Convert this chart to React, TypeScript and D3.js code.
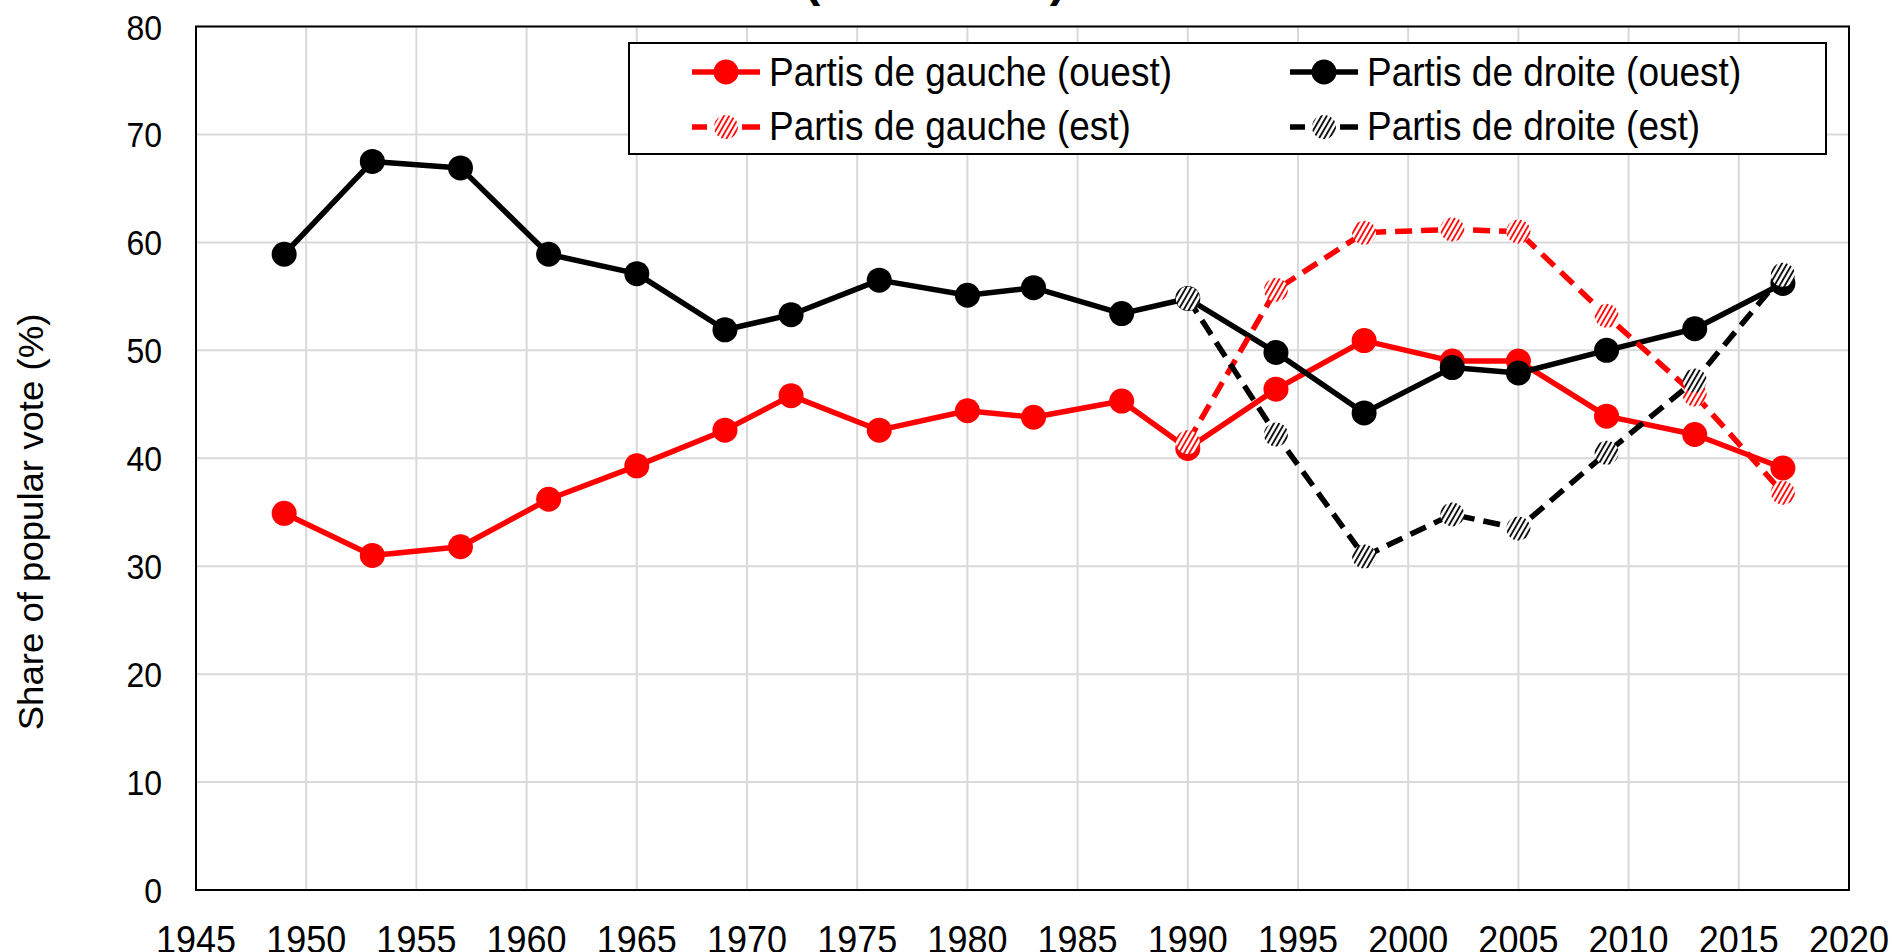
import React, { useEffect } from 'react';
import * as d3 from 'd3';

// election years
const yearsWest = [1949, 1953, 1957, 1961, 1965, 1969, 1972, 1976, 1980, 1983, 1987, 1990, 1994, 1998, 2002, 2005, 2009, 2013, 2017];
const yearsEast = [1990, 1994, 1998, 2002, 2005, 2009, 2013, 2017];

// vote shares (%)
const leftWest = [34.9, 31.0, 31.8, 36.2, 39.3, 42.6, 45.8, 42.6, 44.4, 43.8, 45.3, 40.9, 46.4, 50.9, 49.0, 49.0, 43.9, 42.2, 39.1];
const rightWest = [58.9, 67.5, 66.9, 58.9, 57.1, 51.9, 53.3, 56.5, 55.1, 55.8, 53.4, 54.8, 49.8, 44.2, 48.4, 47.9, 50.0, 52.0, 56.2];
const leftEast = [41.5, 55.6, 60.9, 61.2, 61.0, 53.2, 45.9, 36.8];
const rightEast = [54.8, 42.2, 30.9, 34.8, 33.5, 40.5, 47.2, 57.0];

const xTicks = [1945, 1950, 1955, 1960, 1965, 1970, 1975, 1980, 1985, 1990, 1995, 2000, 2005, 2010, 2015, 2020];
const yTicks = [0, 10, 20, 30, 40, 50, 60, 70, 80];

const titleText = '(1949-2017)';
const yLabel = 'Share of popular vote (%)';

const series = [
  { name: 'Partis de gauche (ouest)', years: yearsWest, values: leftWest, color: '#ff0000', dashed: false },
  { name: 'Partis de droite (ouest)', years: yearsWest, values: rightWest, color: '#000000', dashed: false },
  { name: 'Partis de gauche (est)', years: yearsEast, values: leftEast, color: '#ff0000', dashed: true },
  { name: 'Partis de droite (est)', years: yearsEast, values: rightEast, color: '#000000', dashed: true },
];

const W = 1896;
const H = 952;
const font = '"Liberation Sans", Arial, sans-serif';

// text is a bit taller than wide in the original picture
const Txt = ({ x, y, size, sy = 1.1, anchor = 'start', children }: any) => (
  <text transform={`translate(${x},${y}) scale(1,${sy})`} textAnchor={anchor} fontSize={size}>{children}</text>
);

export default function App() {
  useEffect(() => {
    document.body.style.margin = '0';
    document.body.style.overflow = 'hidden';
  }, []);

  const x = d3.scaleLinear().domain([1945, 2020]).range([196, 1849]);
  const y = d3.scaleLinear().domain([0, 80]).range([890, 26.5]);
  const line = d3.line<[number, number]>().x(d => x(d[0])).y(d => y(d[1]));

  const hatchId = (c: string) => (c === '#ff0000' ? 'hatch-red' : 'hatch-black');
  const marker = (s: typeof series[number], cx: number, cy: number, key: any) =>
    s.dashed ? (
      <circle key={key} cx={cx} cy={cy} r={12} fill={`url(#${hatchId(s.color)})`} />
    ) : (
      <circle key={key} cx={cx} cy={cy} r={12.5} fill={s.color} />
    );

  // legend layout
  const legend = { x: 629, y: 43, w: 1197, h: 111 };
  const legendPos = [
    { lx: 692, ty: 72, tb: 86 },
    { lx: 1290, ty: 72, tb: 86 },
    { lx: 692, ty: 127, tb: 140 },
    { lx: 1290, ty: 127, tb: 140 },
  ];

  return (
    <svg width={W} height={H} style={{ position: 'absolute', left: 0, top: 0, background: '#fff' }} fontFamily={font}>
      <defs>
        {['#ff0000', '#000000'].map(c => (
          <pattern key={c} id={hatchId(c)} patternUnits="userSpaceOnUse" width={4.5} height={4.5} patternTransform="rotate(30)">
            <rect width={4.5} height={4.5} fill="#fff" />
            <line x1={1} y1={0} x2={1} y2={4.5} stroke={c} strokeWidth={1.8} />
          </pattern>
        ))}
      </defs>

      <text x={935} y={-4} textAnchor="middle" fontSize={48} fontWeight="bold">{titleText}</text>

      {/* grid */}
      {xTicks.map(t => (
        <line key={'gx' + t} x1={x(t)} x2={x(t)} y1={y(0)} y2={y(80)} stroke="#d9d9d9" strokeWidth={2} />
      ))}
      {yTicks.map(t => (
        <line key={'gy' + t} x1={x(1945)} x2={x(2020)} y1={y(t)} y2={y(t)} stroke="#d9d9d9" strokeWidth={2} />
      ))}
      <rect x={x(1945)} y={y(80)} width={x(2020) - x(1945)} height={y(0) - y(80)} fill="none" stroke="#000" strokeWidth={2} />

      {/* tick labels */}
      {xTicks.map(t => (
        <Txt key={'tx' + t} x={x(t)} y={953} size={36} anchor="middle">{t}</Txt>
      ))}
      {yTicks.map(t => (
        <Txt key={'ty' + t} x={162} y={y(t) + 13} size={32} sy={1.12} anchor="end">{t}</Txt>
      ))}
      <text transform={`translate(43,522) rotate(-90) scale(1.06,1)`} textAnchor="middle" fontSize={34.5}>{yLabel}</text>

      {/* series */}
      {series.map((s, i) => {
        const pts = s.years.map((yr, j) => [yr, s.values[j]] as [number, number]);
        return (
          <g key={s.name}>
            <path d={line(pts) || ''} fill="none" stroke={s.color} strokeWidth={5.5}
              strokeDasharray={s.dashed ? '17 9' : undefined} strokeLinejoin="round" />
            {pts.map((p, j) => marker(s, x(p[0]), y(p[1]), i + '-' + j))}
          </g>
        );
      })}

      {/* legend */}
      <rect x={legend.x} y={legend.y} width={legend.w} height={legend.h} fill="#fff" stroke="#000" strokeWidth={2} />
      {series.map((s, i) => {
        const p = legendPos[i];
        return (
          <g key={'lg' + i}>
            <line x1={p.lx} x2={p.lx + 68} y1={p.ty} y2={p.ty} stroke={s.color} strokeWidth={5.5}
              strokeDasharray={s.dashed ? '15 35 18' : undefined} />
            {marker(s, p.lx + 34, p.ty, 'lm' + i)}
            <Txt x={p.lx + 77} y={p.tb} size={37} sy={1.08}>{s.name}</Txt>
          </g>
        );
      })}
    </svg>
  );
}
